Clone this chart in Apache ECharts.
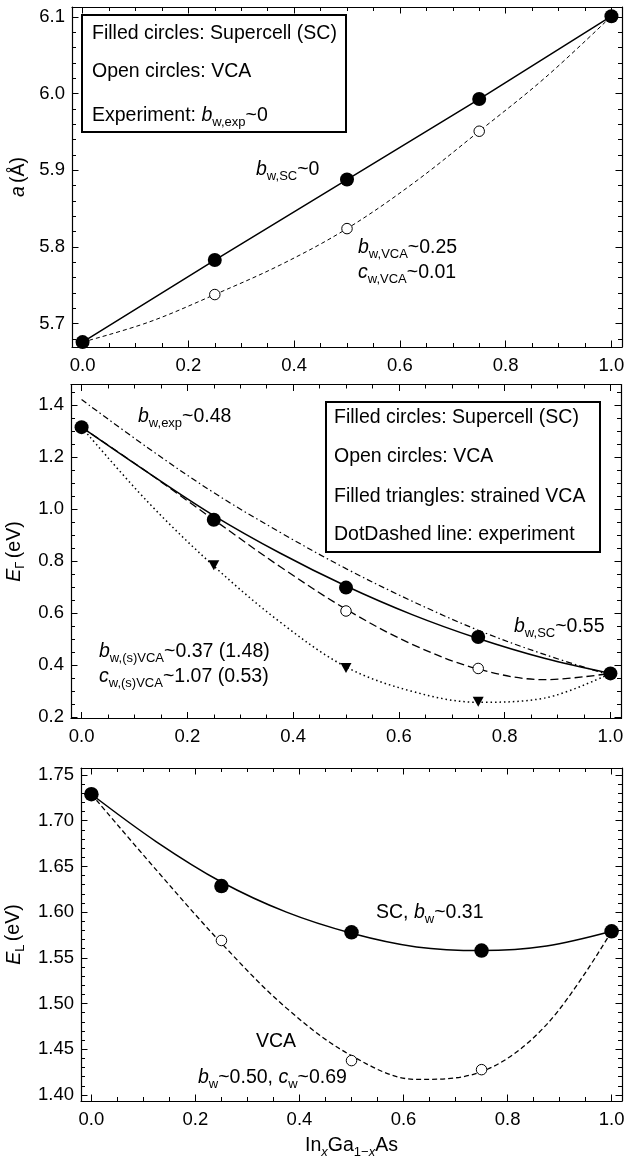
<!DOCTYPE html>
<html><head><meta charset="utf-8">
<script src="https://cdn.jsdelivr.net/npm/echarts@6/dist/echarts.min.js"></script>
<style>html,body{margin:0;padding:0;background:#fff}#c{width:624px;height:1161px}</style>
</head><body><div id="c"></div>
<script>
// ---------- data ----------
const xPoints = [0, 0.25, 0.5, 0.75, 1];
const xCurve = [0, 0.125, 0.25, 0.375, 0.5, 0.625, 0.75, 0.875, 1];
const xStrained = [0.25, 0.5, 0.75];

// panel 1: lattice constant a (Å)
const aSC = [5.676, 5.783, 5.888, 5.993, 6.101];
const aVCA = [5.676, 5.738, 5.824, 5.951, 6.101];
const aVCAfit = [5.676, 5.702, 5.738, 5.777, 5.824, 5.883, 5.951, 6.021, 6.101];

// panel 2: E_Gamma (eV)
const egSC = [1.314, 0.958, 0.697, 0.507, 0.367];
const egVCA = [1.314, 0.958, 0.607, 0.386, 0.367];
const egStrained = [0.783, 0.388, 0.258];
const egSCfit = [1.314, 1.140, 0.974, 0.830, 0.703, 0.593, 0.501, 0.425, 0.367];
const egVCAfit = [1.314, 1.140, 0.958, 0.778, 0.614, 0.479, 0.384, 0.343, 0.367];
const egStrainedFit = [1.314, 1.027, 0.780, 0.565, 0.392, 0.298, 0.256, 0.272, 0.367];
const egExpFit = [1.420, 1.235, 1.062, 0.910, 0.770, 0.645, 0.533, 0.440, 0.360];

// panel 3: E_L (eV)
const elSC = [1.729, 1.6285, 1.578, 1.558, 1.579];
const elVCA = [1.729, 1.569, 1.4376, 1.4277, 1.579];
const elSCfit = [1.729, 1.677, 1.633, 1.600, 1.577, 1.562, 1.558, 1.563, 1.579];
const elVCAfit = [1.729, 1.646, 1.566, 1.495, 1.443, 1.417, 1.4255, 1.477, 1.579];

// ticks
const xTickMajor = [0, 0.2, 0.4, 0.6, 0.8, 1.0];
const xTickMinor = [0.05, 0.1, 0.15, 0.25, 0.3, 0.35, 0.45, 0.5, 0.55, 0.65, 0.7, 0.75, 0.85, 0.9, 0.95];
const aTickMajor = [5.7, 5.8, 5.9, 6.0, 6.1];
const aTickMinor = [5.68, 5.72, 5.74, 5.76, 5.78, 5.82, 5.84, 5.86, 5.88, 5.92, 5.94, 5.96, 5.98, 6.02, 6.04, 6.06, 6.08];
const egTickMajor = [0.2, 0.4, 0.6, 0.8, 1.0, 1.2, 1.4];
const egTickMinor = [0.25, 0.3, 0.35, 0.45, 0.5, 0.55, 0.65, 0.7, 0.75, 0.85, 0.9, 0.95, 1.05, 1.1, 1.15, 1.25, 1.3, 1.35, 1.45];
const elTickMajor = [1.40, 1.45, 1.50, 1.55, 1.60, 1.65, 1.70, 1.75];
const elTickMinor = [1.41, 1.42, 1.43, 1.44, 1.46, 1.47, 1.48, 1.49, 1.51, 1.52, 1.53, 1.54, 1.56, 1.57, 1.58, 1.59,
  1.61, 1.62, 1.63, 1.64, 1.66, 1.67, 1.68, 1.69, 1.71, 1.72, 1.73, 1.74];

// ---------- chart ----------
const FF = '"Liberation Sans", Arial, Helvetica, sans-serif';
const chart = echarts.init(document.getElementById('c'), null, {renderer: 'canvas', width: 624, height: 1161});

const grids = [
  {left: 72, top: 7, width: 550, height: 340},
  {left: 71, top: 384.5, width: 550, height: 334},
  {left: 81, top: 768, width: 541, height: 333}
];
const panels = [
  {xMin: -0.02, xMax: 1.02, yMin: 5.6696, yMax: 6.113, yMajor: aTickMajor, yMinor: aTickMinor, dec: 1,
   yName: '{i|a} {n|(Å)}', yGap: 40},
  {xMin: -0.02, xMax: 1.02, yMin: 0.1936, yMax: 1.478, yMajor: egTickMajor, yMinor: egTickMinor, dec: 1,
   yName: '{i|E}{s|Γ} {n|(eV)}', yGap: 40},
  {xMin: -0.02, xMax: 1.02, yMin: 1.3934, yMax: 1.7577, yMajor: elTickMajor, yMinor: elTickMinor, dec: 2,
   yName: '{i|E}{s|L} {n|(eV)}', yGap: 50,
   xName: '{n|In}{si|x}{n|Ga}{s|1−}{si|x}{n|As}'}
];

const TS = 19.5;  // text size
const SS = 13;    // subscript size
const richE = {
  n: {fontSize: TS, fontFamily: FF, color: '#000', lineHeight: 26, verticalAlign: 'middle'},
  i: {fontSize: TS, fontFamily: FF, color: '#000', fontStyle: 'italic', lineHeight: 26, verticalAlign: 'middle'},
  s: {fontSize: SS, fontFamily: FF, color: '#000', lineHeight: 14, verticalAlign: 'bottom'},
  si: {fontSize: SS, fontFamily: FF, color: '#000', fontStyle: 'italic', lineHeight: 14, verticalAlign: 'bottom'}
};

const xAxes = [], yAxes = [];
panels.forEach((p, g) => {
  const line = {show: true, onZero: false, lineStyle: {color: '#000', width: 1.2}};
  const noLine = {show: false, onZero: false};
  const tick = (vals, len) => ({show: true, inside: true, length: len, customValues: vals, lineStyle: {color: '#000', width: 1}});
  const lbl = (vals, dec) => ({show: true, customValues: vals, formatter: v => Number(v).toFixed(dec),
    fontSize: 18.5, fontFamily: FF, color: '#000', margin: 7});
  const xb = {type: 'value', gridIndex: g, min: p.xMin, max: p.xMax, splitLine: {show: false}};
  const yb = {type: 'value', gridIndex: g, min: p.yMin, max: p.yMax, splitLine: {show: false}};
  const xMain = Object.assign({}, xb, {position: 'bottom', axisLine: line, axisTick: tick(xTickMajor, 6.5), axisLabel: lbl(xTickMajor, 1)});
  xMain.axisLabel.margin = 9;
  if (p.xName) {
    Object.assign(xMain, {name: p.xName, nameLocation: 'middle', nameGap: 32, nameTextStyle: {rich: richE}});
  }
  xAxes.push(xMain);
  xAxes.push(Object.assign({}, xb, {position: 'bottom', axisLine: noLine, axisTick: tick(xTickMinor, 4), axisLabel: {show: false}}));
  xAxes.push(Object.assign({}, xb, {position: 'top', axisLine: line, axisTick: tick(xTickMajor, 6.5), axisLabel: {show: false}}));
  xAxes.push(Object.assign({}, xb, {position: 'top', axisLine: noLine, axisTick: tick(xTickMinor, 4), axisLabel: {show: false}}));
  yAxes.push(Object.assign({}, yb, {position: 'left', axisLine: line, axisTick: tick(p.yMajor, 6.5), axisLabel: lbl(p.yMajor, p.dec),
    name: p.yName, nameLocation: 'middle', nameRotate: 90, nameGap: p.yGap, nameTextStyle: {rich: richE}}));
  yAxes.push(Object.assign({}, yb, {position: 'left', axisLine: noLine, axisTick: tick(p.yMinor, 4), axisLabel: {show: false}}));
  yAxes.push(Object.assign({}, yb, {position: 'right', axisLine: line, axisTick: tick(p.yMajor, 6.5), axisLabel: {show: false}}));
  yAxes.push(Object.assign({}, yb, {position: 'right', axisLine: noLine, axisTick: tick(p.yMinor, 4), axisLabel: {show: false}}));
});

function pts(xs, ys) { return xs.map((x, i) => [x, ys[i]]); }
function curve(g, xs, ys, width, dash, smooth) {
  return {type: 'line', xAxisIndex: 4 * g, yAxisIndex: 4 * g, data: pts(xs, ys), smooth: smooth, symbol: 'none',
    showSymbol: false, clip: false, silent: true, z: 2, lineStyle: {color: '#000', width: width, type: dash, opacity: 1}};
}
function filled(g, xs, ys, size) {
  return {type: 'scatter', xAxisIndex: 4 * g, yAxisIndex: 4 * g, data: pts(xs, ys), symbol: 'circle', symbolSize: size,
    clip: false, silent: true, z: 5, itemStyle: {color: '#000', opacity: 1}};
}
function open(g, xs, ys, size) {
  return {type: 'scatter', xAxisIndex: 4 * g, yAxisIndex: 4 * g, data: pts(xs, ys), symbol: 'circle', symbolSize: size,
    clip: false, silent: true, z: 4, itemStyle: {color: '#fff', borderColor: '#000', borderWidth: 1, opacity: 1}};
}

const series = [
  // panel 1
  curve(0, xPoints, aSC, 1.5, 'solid', false),
  curve(0, xCurve, aVCAfit, 1, [4, 3], 0.35),
  open(0, xPoints, aVCA, 10.5),
  filled(0, xPoints, aSC, 14),
  // panel 2
  curve(1, xCurve, egExpFit, 1.2, [6, 3, 1.5, 3], 0.35),
  curve(1, xCurve, egStrainedFit, 1.5, [1.5, 3], 0.35),
  curve(1, xCurve, egVCAfit, 1.3, [8, 4], 0.35),
  curve(1, xCurve, egSCfit, 1.5, 'solid', 0.35),
  {type: 'scatter', xAxisIndex: 4, yAxisIndex: 4, data: pts(xStrained, egStrained), symbol: 'triangle', symbolRotate: 180,
    symbolSize: [11, 10], clip: false, silent: true, z: 5, itemStyle: {color: '#000', opacity: 1}},
  open(1, xPoints, egVCA, 10.5),
  filled(1, xPoints, egSC, 14),
  // panel 3
  curve(2, xCurve, elVCAfit, 1.3, [5, 3], 0.35),
  curve(2, xCurve, elSCfit, 1.5, 'solid', 0.35),
  open(2, xPoints, elVCA, 10.5),
  filled(2, xPoints, elSC, 14.5)
];

// annotation text (zrender style)
const richG = {
  n: {fontSize: TS, fontFamily: FF, fill: '#000', lineHeight: 26, verticalAlign: 'middle'},
  i: {fontSize: TS, fontFamily: FF, fill: '#000', fontStyle: 'italic', lineHeight: 26, verticalAlign: 'middle'},
  s: {fontSize: SS, fontFamily: FF, fill: '#000', lineHeight: 14, verticalAlign: 'bottom'},
  si: {fontSize: SS, fontFamily: FF, fill: '#000', fontStyle: 'italic', lineHeight: 14, verticalAlign: 'bottom'}
};
function txt(x, y, s) {
  return {type: 'text', x: x, y: y, z: 100, silent: true,
    style: {text: s, rich: richG, fill: '#000', fontSize: TS, fontFamily: FF, align: 'left', verticalAlign: 'middle'}};
}
function box(x, y, w, h) {
  return {type: 'rect', z: 90, silent: true, shape: {x: x, y: y, width: w, height: h},
    style: {fill: '#fff', stroke: '#000', lineWidth: 2}};
}

const graphic = [
  box(82, 15, 264, 117),
  txt(92, 34, '{n|Filled circles: Supercell (SC)}'),
  txt(92, 72, '{n|Open circles: VCA}'),
  txt(92, 116, '{n|Experiment: }{i|b}{s|w,exp}{n|~0}'),
  txt(256, 170, '{i|b}{s|w,SC}{n|~0}'),
  txt(358, 248, '{i|b}{s|w,VCA}{n|~0.25}'),
  txt(358, 273, '{i|c}{s|w,VCA}{n|~0.01}'),

  box(326, 402, 274, 150),
  txt(334, 418, '{n|Filled circles: Supercell (SC)}'),
  txt(334, 457, '{n|Open circles: VCA}'),
  txt(334, 497, '{n|Filled triangles: strained VCA}'),
  txt(334, 535, '{n|DotDashed line: experiment}'),
  txt(138, 417, '{i|b}{s|w,exp}{n|~0.48}'),
  txt(514, 627, '{i|b}{s|w,SC}{n|~0.55}'),
  txt(99, 652, '{i|b}{s|w,(s)VCA}{n|~0.37 (1.48)}'),
  txt(99, 677, '{i|c}{s|w,(s)VCA}{n|~1.07 (0.53)}'),

  txt(376, 913, '{n|SC, }{i|b}{s|w}{n|~0.31}'),
  txt(256, 1042, '{n|VCA}'),
  txt(198, 1078, '{i|b}{s|w}{n|~0.50, }{i|c}{s|w}{n|~0.69}')
];

chart.setOption({
  animation: false,
  backgroundColor: '#fff',
  grid: grids.map(g => Object.assign({containLabel: false, outerBoundsMode: 'none'}, g)),
  xAxis: xAxes,
  yAxis: yAxes,
  series: series,
  graphic: graphic
});
</script></body></html>
